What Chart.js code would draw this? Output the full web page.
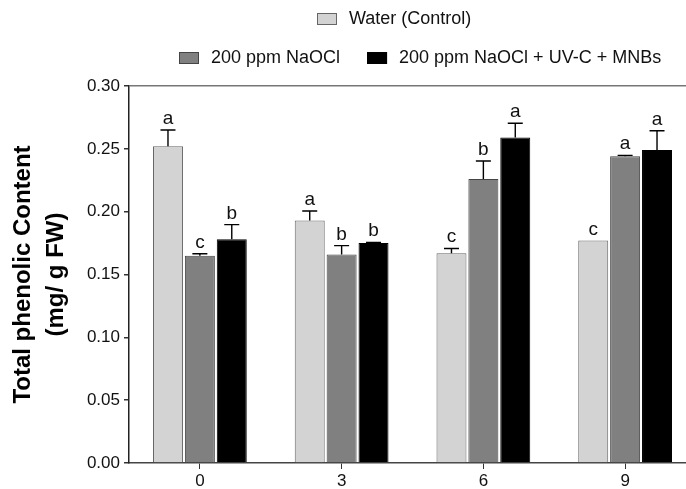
<!DOCTYPE html>
<html>
<head>
<meta charset="utf-8">
<script src="https://cdn.jsdelivr.net/npm/chart.js@4.4.1/dist/chart.umd.min.js"></script>
<style>
  html, body { margin: 0; padding: 0; background: #fff; overflow: hidden; }
  #clip { width: 686px; height: 489px; overflow: hidden; position: relative; }
  #box { width: 700px; height: 489px; position: absolute; left: 0; top: 0; }
</style>
</head>
<body>
<div id="clip"><div id="box"><canvas id="chart"></canvas></div></div>
<script>
// days of storage
const days = ['0', '3', '6', '9'];
const seriesNames = ['Water (Control)', '200 ppm NaOCl', '200 ppm NaOCl + UV-C + MNBs'];

// mean values (mg/ g FW)
const water = [0.252, 0.193, 0.167, 0.177];
const naocl = [0.165, 0.166, 0.226, 0.244];
const naoclUvc = [0.178, 0.175, 0.259, 0.249];

// upper error (SE)
const waterErr = [0.013, 0.0075, 0.0037, 0];
const naoclErr = [0.0015, 0.007, 0.0143, 0.0008];
const naoclUvcErr = [0.0117, 0.0005, 0.0114, 0.0154];

// letters of significance
const waterLetters = ['a', 'a', 'c', 'c'];
const naoclLetters = ['c', 'b', 'b', 'a'];
const naoclUvcLetters = ['b', 'b', 'a', 'a'];

const yTicks = [0, 0.05, 0.10, 0.15, 0.20, 0.25, 0.30];

const FONT = "'Liberation Sans', Arial, Helvetica, sans-serif";
Chart.defaults.font.family = FONT;

const errors = [waterErr, naoclErr, naoclUvcErr];
const letters = [waterLetters, naoclLetters, naoclUvcLetters];

// error bar (upper half only) + letter above each bar
const barExtras = {
    id: 'barExtras',
    afterDatasetsDraw(chart) {
        const ctx = chart.ctx;
        const yScale = chart.scales.y;
        ctx.save();
        chart.data.datasets.forEach((ds, i) => {
            const meta = chart.getDatasetMeta(i);
            meta.data.forEach((bar, j) => {
                const err = errors[i][j];
                const top = yScale.getPixelForValue(ds.data[j] + err);
                if (err > 0) {
                    ctx.strokeStyle = '#000';
                    ctx.lineWidth = 1.4;
                    ctx.beginPath();
                    ctx.moveTo(bar.x, bar.y);
                    ctx.lineTo(bar.x, top);
                    ctx.moveTo(bar.x - 7.5, top);
                    ctx.lineTo(bar.x + 7.5, top);
                    ctx.stroke();
                }
                ctx.fillStyle = '#111';
                ctx.font = '19px ' + FONT;
                ctx.textAlign = 'center';
                ctx.textBaseline = 'alphabetic';
                ctx.fillText(letters[i][j], bar.x, top - 6);
            });
        });
        ctx.restore();
    }
};

// legend: one item on first row, two on second
const legendRows = [
    { x: 317, y: 19, items: [0] },
    { x: 179, y: 58, items: [1, 2] }
];
const customLegend = {
    id: 'customLegend',
    afterDraw(chart) {
        const ctx = chart.ctx;
        ctx.save();
        ctx.font = '18px ' + FONT;
        ctx.textBaseline = 'middle';
        ctx.textAlign = 'left';
        legendRows.forEach(row => {
            let x = row.x;
            row.items.forEach(k => {
                const ds = chart.data.datasets[k];
                ctx.fillStyle = ds.backgroundColor;
                ctx.fillRect(x, row.y - 6, 20, 12);
                ctx.strokeStyle = ds.borderColor;
                ctx.lineWidth = 1;
                ctx.strokeRect(x + 0.5, row.y - 5.5, 19, 11);
                ctx.fillStyle = '#111';
                ctx.fillText(ds.label, x + 32, row.y);
                x += 32 + ctx.measureText(ds.label).width + 27;
            });
        });
        ctx.restore();
    }
};

new Chart(document.getElementById('chart'), {
    type: 'bar',
    data: {
        labels: days,
        datasets: [
            { label: seriesNames[0], data: water, backgroundColor: '#d3d3d3', borderColor: '#666', borderWidth: 1 },
            { label: seriesNames[1], data: naocl, backgroundColor: '#808080', borderColor: '#444', borderWidth: 1 },
            { label: seriesNames[2], data: naoclUvc, backgroundColor: '#000', borderColor: '#000', borderWidth: 1 }
        ]
    },
    options: {
        responsive: true,
        maintainAspectRatio: false,
        animation: false,
        categoryPercentage: 0.675,
        barPercentage: 0.94,
        layout: { padding: { top: 86, right: 4, bottom: 0, left: 0 } },
        plugins: {
            legend: { display: false },
            tooltip: { enabled: false }
        },
        scales: {
            x: {
                afterFit: s => { s.height = 26; },
                grid: {
                    offset: false,
                    drawOnChartArea: false,
                    tickLength: 6,
                    tickColor: '#333'
                },
                border: { color: '#444', width: 1.5 },
                ticks: { color: '#111', font: { size: 17 }, padding: 2 }
            },
            y: {
                min: 0,
                max: 0.3,
                afterFit: s => { s.width = 129; },
                afterBuildTicks: s => { s.ticks = yTicks.map(v => ({ value: v })); },
                grid: {
                    // only the top frame line at 0.30
                    color: c => (c.tick && Math.abs(c.tick.value - 0.3) < 1e-9) ? '#777' : 'rgba(0,0,0,0)',
                    lineWidth: 1.5,
                    tickLength: 5,
                    tickColor: '#333'
                },
                border: { color: '#222', width: 1.5 },
                ticks: {
                    color: '#111',
                    font: { size: 17 },
                    padding: 4,
                    callback: v => Number(v).toFixed(2)
                },
                title: {
                    display: true,
                    text: ['Total phenolic Content', '(mg/ g FW)'],
                    color: '#000',
                    font: { size: 24, weight: 'bold', lineHeight: 1.375 },
                    padding: { top: 7, bottom: 0 }
                }
            }
        }
    },
    plugins: [barExtras, customLegend]
});
</script>
</body>
</html>
